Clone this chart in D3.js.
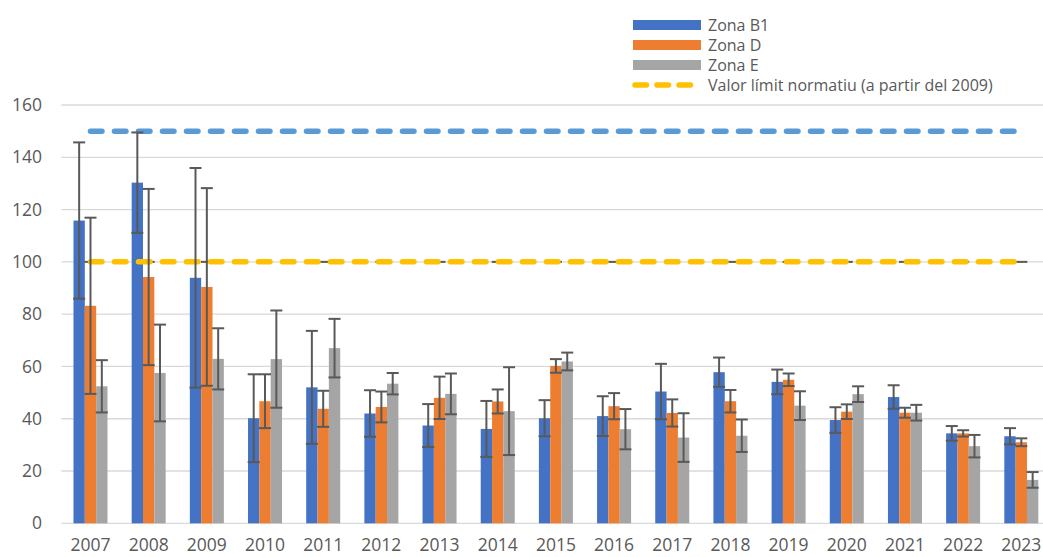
<!DOCTYPE html>
<html>
<head>
<meta charset="utf-8">
<script src="https://cdn.jsdelivr.net/npm/d3@7"></script>
<style>
  html, body { margin: 0; padding: 0; background: #fff; }
  svg { display: block; font-family: "Open Sans", sans-serif; }
</style>
</head>
<body>
<svg id="chart" width="1043" height="557"></svg>
<script>
const years = ["2007","2008","2009","2010","2011","2012","2013","2014","2015","2016","2017","2018","2019","2020","2021","2022","2023"];
const zonaB1 = [115.8,130.3,93.9,40.2,52.0,42.0,37.4,36.1,40.2,41.0,50.4,57.8,54.1,39.5,48.3,34.4,33.3];
const zonaD  = [83.2,94.2,90.4,46.7,43.8,44.5,48.0,46.6,60.2,44.8,42.2,46.7,54.9,42.7,42.3,34.4,31.0];
const zonaE  = [52.4,57.5,62.9,62.8,67.0,53.4,49.5,42.9,61.9,36.0,32.8,33.5,45.0,49.4,42.3,29.5,16.6];
const errB1 = [29.9,19.2,42.0,16.8,21.6,8.9,8.2,10.7,6.9,7.6,10.6,5.6,4.7,4.9,4.5,2.8,3.1];
const errD  = [33.7,33.7,37.8,10.3,6.9,5.9,8.1,4.6,2.6,5.0,5.2,4.3,2.4,2.8,1.9,1.2,1.5];
const errE  = [10.0,18.5,11.7,18.6,11.2,4.1,7.8,16.8,3.4,7.7,9.3,6.2,5.5,3.0,3.0,4.3,3.0];
const limitNorm = [100,100,100,100,100,100,100,100,100,100,100,100,100,100,100,100,100];
const limitPrev = [150,150,150,150,150,150,150,150,150,150,150,150,150,150,150,150,150];
const yTicks = [0,20,40,60,80,100,120,140,160];
const seriesNames = ["Zona B1","Zona D","Zona E"];
const legendLimit = "Valor límit normatiu (a partir del 2009)";

const colors = ["#4472C4","#ED7D31","#A5A5A5"];
const textColor = "#595959";

const svg = d3.select("#chart");
const plotLeft = 61.4, plotRight = 1050.4, plotTop = 105, plotBottom = 523.3;

const x = d3.scaleBand().domain(years).range([plotLeft, plotRight]).paddingInner(0).paddingOuter(0);
const groupW = 34;
const xs = d3.scaleBand().domain([0,1,2]).range([0, groupW]);
const y = d3.scaleLinear().domain([0,160]).range([plotBottom, plotTop]);

// gridlines
svg.append("g").selectAll("line").data(yTicks).join("line")
  .attr("x1", plotLeft).attr("x2", plotRight)
  .attr("y1", d => y(d)).attr("y2", d => y(d))
  .attr("stroke", "#d9d9d9").attr("stroke-width", 1.3);

// y axis labels
const yAxis = d3.axisLeft(y).tickValues(yTicks).tickSize(0).tickPadding(0);
const gy = svg.append("g").attr("transform", "translate(42,0)").call(yAxis);
gy.select(".domain").remove();
gy.selectAll("text").attr("fill", textColor).style("font-size", "17.5px").style("font-family", "'Open Sans', sans-serif");

// x axis labels
const xAxis = d3.axisBottom(x).tickSize(0).tickPadding(0);
const gx = svg.append("g").attr("transform", "translate(0,539)").call(xAxis);
gx.select(".domain").remove();
gx.selectAll("text").attr("fill", textColor).style("font-size", "17.5px").style("font-family", "'Open Sans', sans-serif");

const series = [zonaB1, zonaD, zonaE];
const errs = [errB1, errD, errE];

// bars
series.forEach((vals, si) => {
  svg.append("g").selectAll("rect").data(vals).join("rect")
    .attr("x", (d, i) => x(years[i]) + x.bandwidth()/2 - groupW/2 + xs(si))
    .attr("width", xs.bandwidth())
    .attr("y", d => y(d))
    .attr("height", d => y(0) - y(d))
    .attr("fill", colors[si]);
});

// caps at the limit line (zero-size error bars on line series)
svg.append("g").selectAll("line").data(limitNorm).join("line")
  .attr("x1", (d, i) => x(years[i]) + x.bandwidth()/2 - 6)
  .attr("x2", (d, i) => x(years[i]) + x.bandwidth()/2 + 6)
  .attr("y1", d => y(d)).attr("y2", d => y(d))
  .attr("stroke", "#595959").attr("stroke-width", 2);

// limit lines
const line = d3.line().x((d, i) => x(years[i]) + x.bandwidth()/2).y(d => y(d));
svg.append("path").datum(limitPrev).attr("d", line)
  .attr("fill", "none").attr("stroke", "#5B9BD5").attr("stroke-width", 5.5)
  .attr("stroke-linecap", "round").attr("stroke-dasharray", "11.5 12.5");
svg.append("path").datum(limitNorm).attr("d", line)
  .attr("fill", "none").attr("stroke", "#FFC000").attr("stroke-width", 5.5)
  .attr("stroke-linecap", "round").attr("stroke-dasharray", "11.5 12.5");

// error bars
series.forEach((vals, si) => {
  const g = svg.append("g").attr("stroke", "#595959").attr("stroke-width", 2);
  vals.forEach((v, i) => {
    const cx = x(years[i]) + x.bandwidth()/2 - groupW/2 + xs(si) + xs.bandwidth()/2;
    const e = errs[si][i];
    g.append("line").attr("x1", cx).attr("x2", cx).attr("y1", y(v + e)).attr("y2", y(v - e));
    g.append("line").attr("x1", cx - 6).attr("x2", cx + 6).attr("y1", y(v + e)).attr("y2", y(v + e));
    g.append("line").attr("x1", cx - 6).attr("x2", cx + 6).attr("y1", y(v - e)).attr("y2", y(v - e));
  });
});

// legend
const lg = svg.append("g");
const lx = 633, lw = 68, tx = 708;
const rows = [25, 45, 65, 85];
seriesNames.forEach((n, i) => {
  lg.append("rect").attr("x", lx).attr("y", rows[i] - 5).attr("width", lw).attr("height", 10).attr("fill", colors[i]);
  lg.append("text").attr("x", tx).attr("y", rows[i]).attr("dy", "0.35em")
    .attr("fill", textColor).style("font-size", "16px").text(n);
});
lg.append("line").attr("x1", lx + 2).attr("x2", lx + lw - 2).attr("y1", rows[3]).attr("y2", rows[3])
  .attr("stroke", "#FFC000").attr("stroke-width", 5.5).attr("stroke-linecap", "round").attr("stroke-dasharray", "11.5 10.5");
lg.append("text").attr("x", tx).attr("y", rows[3]).attr("dy", "0.35em")
  .attr("fill", textColor).style("font-size", "16px").text(legendLimit);
</script>
</body>
</html>
